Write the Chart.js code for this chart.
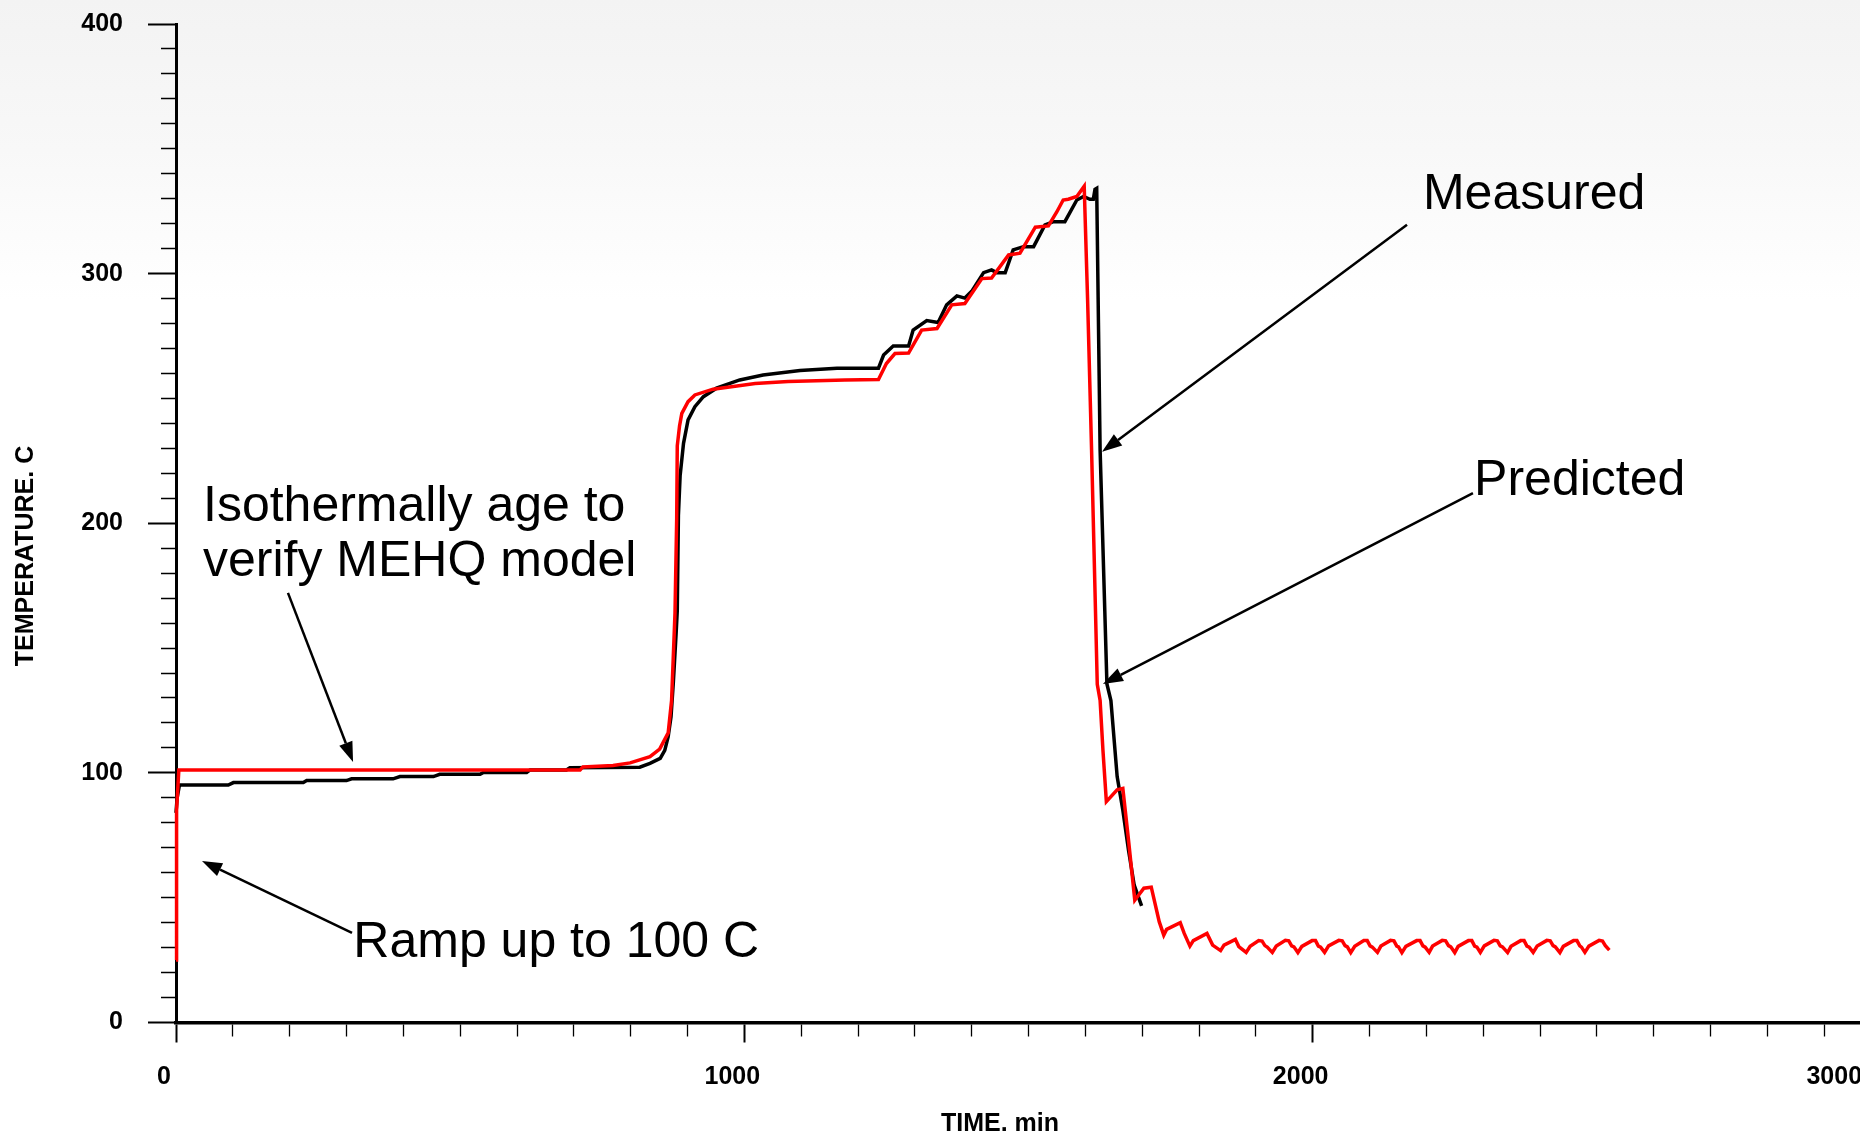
<!DOCTYPE html>
<html>
<head>
<meta charset="utf-8">
<script src="https://cdn.jsdelivr.net/npm/chart.js@4/dist/chart.umd.min.js"></script>
<style>
  html, body { margin: 0; padding: 0; overflow: hidden; background: #fff; }
  #wrap { position: relative; width: 1900px; height: 1138px;
          background: linear-gradient(#f3f3f3 0, #f8f8f8 150px, #fff 300px); }
</style>
</head>
<body>
<div id="wrap"><canvas id="tempchart"></canvas></div>
<script>
// measured temperature (black)
const measuredTime = [0, 2, 6, 92, 101, 224, 230, 300, 309, 382, 394, 453, 464, 535, 541, 617, 623, 687, 693, 816,
  834, 852, 860, 866, 871, 875, 880, 882, 884, 887, 893, 901, 913, 928, 951, 992, 1033, 1098, 1163, 1236,
  1245, 1262, 1289, 1297, 1321, 1341, 1356, 1374, 1388, 1400, 1421, 1435, 1444, 1459, 1473, 1491, 1509, 1529, 1544, 1564,
  1585, 1597, 1608, 1614, 1617, 1620, 1626, 1638, 1645, 1656, 1666, 1676, 1686, 1699];
const measuredTemp = [84, 90, 95.1, 95.1, 96.1, 96.1, 96.9, 96.9, 97.6, 97.6, 98.5, 98.5, 99.4, 99.4, 100.2, 100.2, 101.2, 101.2, 102.1, 102.3,
  103.8, 105.8, 109, 114.5, 122.5, 136, 156, 165, 203, 219, 232, 241.4, 246.7, 250.7, 254.1, 257.4, 259.4, 261.2, 262.1, 262.1,
  267.4, 271, 271, 277.4, 281.2, 280.4, 287.5, 291.1, 290.2, 292.9, 300.4, 301.5, 300.4, 300.4, 309.5, 310.8, 310.8, 319.5, 320.8, 320.8,
  329.5, 330.9, 329.8, 329.8, 333.8, 334.2, 229.4, 135.6, 129, 98.5, 85, 69, 55, 46.7];

// predicted temperature (red)
const predictedTime = [0, 1, 5, 711, 716, 769, 799, 834, 851, 866, 872, 878, 881, 882, 886, 890, 901, 913, 945, 987,
  1019, 1077, 1177, 1236, 1250, 1265, 1289, 1312, 1339, 1365, 1388, 1418, 1435, 1465, 1485, 1512, 1535, 1550, 1561, 1570,
  1585, 1598, 1604, 1611, 1621, 1626, 1631, 1637, 1656, 1666, 1676, 1687, 1703, 1716, 1730, 1738, 1743, 1767, 1774, 1784,
  1790, 1814, 1824, 1838, 1844, 1864, 1870, 1883,
  1890, 1905, 1911, 1916, 1920, 1929,
  1936, 1952, 1958, 1963, 1967, 1974,
  1981, 1999, 2005, 2010, 2014, 2021,
  2028, 2046, 2052, 2057, 2061, 2067,
  2074, 2090, 2096, 2101, 2105, 2114,
  2120, 2137, 2143, 2148, 2151, 2157,
  2164, 2183, 2189, 2194, 2198, 2205,
  2211, 2228, 2234, 2239, 2243, 2250,
  2256, 2274, 2280, 2285, 2289, 2295,
  2302, 2319, 2325, 2330, 2334, 2343,
  2349, 2366, 2372, 2377, 2381, 2388,
  2395, 2412, 2418, 2423, 2427, 2435,
  2441, 2459, 2465, 2470, 2473, 2479,
  2486, 2504, 2510, 2515, 2522];
const predictedTemp = [25, 85, 101.2, 101.2, 102.4, 103, 104, 106.5, 109.5, 116, 129, 164, 202, 231, 239, 244, 248.7, 251.4, 253.7, 255,
  256, 256.8, 257.4, 257.6, 264, 268, 268.2, 277.4, 278, 287.5, 288, 298, 298.2, 307.5, 308.2, 318.6, 319.1, 324.8, 329.5, 329.8,
  330.9, 335, 289.5, 229.3, 135.5, 129, 109, 88.5, 93.2, 93.8, 73, 49, 53.8, 54.2, 40.4, 35, 37.3, 40, 35.7, 30.6,
  32.8, 35.7, 31, 28.8, 31, 33.3, 30.4, 28.1,
  30.5, 32.8, 32.6, 30.8, 30.2, 28.1,
  30.6, 32.9, 32.7, 30.7, 30.3, 28.0,
  30.5, 32.8, 32.8, 30.6, 30.2, 28.1,
  30.7, 32.9, 32.7, 30.8, 30.3, 28.0,
  30.5, 32.8, 32.8, 30.7, 30.2, 28.1,
  30.6, 32.9, 32.7, 30.6, 30.3, 28.0,
  30.5, 32.8, 32.8, 30.7, 30.2, 28.1,
  30.6, 32.9, 32.7, 30.8, 30.3, 28.0,
  30.5, 32.8, 32.8, 30.6, 30.2, 28.1,
  30.7, 32.9, 32.7, 30.7, 30.3, 28.0,
  30.5, 32.8, 32.8, 30.6, 30.2, 28.1,
  30.6, 32.9, 32.7, 30.8, 30.3, 28.0,
  30.5, 32.8, 32.8, 30.7, 30.2, 28.1,
  30.6, 32.9, 32.6, 30.8, 29.0];

const xLabels = [0, 1000, 2000, 3000];
const yLabels = [0, 100, 200, 300, 400];

// callouts, in data units (min, C)
const notes = [
  { text: 'Measured', x: 2194, y: 325.9 },
  { text: 'Predicted', x: 2284, y: 211.3 },
  { text: 'Isothermally age to', x: 47.5, y: 200.9 },
  { text: 'verify MEHQ model', x: 47.5, y: 178.9 },
  { text: 'Ramp up to 100 C', x: 312, y: 26.4 }
];
const arrows = [
  { from: [2166, 319.6], to: [1629.4, 228.6] },
  { from: [2282, 212.1], to: [1631, 135.6] },
  { from: [197, 172.1], to: [311.5, 104.4] },
  { from: [309.7, 35.9], to: [45.8, 64.7] }
];

const FONT = '"Liberation Sans", Arial, sans-serif';
Chart.defaults.font.family = FONT;

function points(xs, ys) {
  return xs.map((t, i) => ({ x: t, y: ys[i] }));
}

const callouts = {
  id: 'callouts',
  afterDatasetsDraw(chart) {
    const { ctx, scales: { x, y } } = chart;
    ctx.save();
    ctx.fillStyle = '#000';
    ctx.strokeStyle = '#000';
    ctx.font = '50px ' + FONT;
    ctx.textBaseline = 'alphabetic';
    notes.forEach(n => ctx.fillText(n.text, x.getPixelForValue(n.x), y.getPixelForValue(n.y)));

    arrows.forEach(a => {
      const x1 = x.getPixelForValue(a.from[0]), y1 = y.getPixelForValue(a.from[1]);
      const x2 = x.getPixelForValue(a.to[0]), y2 = y.getPixelForValue(a.to[1]);
      const ang = Math.atan2(y2 - y1, x2 - x1);
      const head = 20, half = 7;
      const bx = x2 - head * Math.cos(ang), by = y2 - head * Math.sin(ang);
      ctx.lineWidth = 2.5;
      ctx.beginPath();
      ctx.moveTo(x1, y1);
      ctx.lineTo(bx, by);
      ctx.stroke();
      ctx.beginPath();
      ctx.moveTo(x2, y2);
      ctx.lineTo(bx + half * Math.sin(ang), by - half * Math.cos(ang));
      ctx.lineTo(bx - half * Math.sin(ang), by + half * Math.cos(ang));
      ctx.closePath();
      ctx.fill();
    });

    // axis titles
    ctx.font = 'bold 25px ' + FONT;
    ctx.textAlign = 'center';
    ctx.textBaseline = 'middle';
    ctx.fillText('TIME. min', 1000, 1124);
    ctx.translate(26, 556);
    ctx.rotate(-Math.PI / 2);
    ctx.fillText('TEMPERATURE. C', 0, 0);
    ctx.restore();
  }
};

const tickFont = { family: FONT, size: 25, weight: 'bold' };

// the last x label sits left of its tick in the original
function xLabel(v) {
  if (!xLabels.includes(v)) return '';
  return v === 3000 ? '3000          ' : String(v);
}

new Chart(document.getElementById('tempchart'), {
  type: 'line',
  data: {
    datasets: [
      {
        label: 'Predicted',
        data: points(predictedTime, predictedTemp),
        borderColor: '#ff0000',
        borderWidth: 3.5,
        pointRadius: 0,
        tension: 0,
        fill: false,
        clip: false
      },
      {
        label: 'Measured',
        data: points(measuredTime, measuredTemp),
        borderColor: '#000000',
        borderWidth: 3.5,
        pointRadius: 0,
        tension: 0,
        fill: false,
        clip: false
      }
    ]
  },
  options: {
    responsive: true,
    maintainAspectRatio: false,
    animation: false,
    layout: { padding: { top: 24, right: 19, bottom: 0, left: 0 } },
    plugins: { legend: { display: false }, tooltip: { enabled: false } },
    scales: {
      x: {
        type: 'linear',
        min: 0,
        max: 3000,
        afterFit: s => { s.height = 115.5; s.paddingLeft = 0; s.paddingRight = 0; },
        border: { display: true, color: '#000', width: 3.5 },
        grid: {
          drawOnChartArea: false,
          tickLength: 20,
          tickColor: '#000',
          tickWidth: c => xLabels.includes(c.tick.value) ? 2 : 1.3,
          tickBorderDash: c => xLabels.includes(c.tick.value) ? [] : [12, 100]
        },
        ticks: {
          stepSize: 100,
          autoSkip: false,
          maxRotation: 0,
          padding: 20,
          labelOffset: -12,
          color: '#000',
          font: tickFont,
          callback: xLabel
        }
      },
      y: {
        min: 0,
        max: 400,
        afterFit: s => { s.width = 176; s.paddingTop = 0; s.paddingBottom = 0; },
        border: { display: true, color: '#000', width: 3 },
        grid: {
          drawOnChartArea: false,
          tickLength: 28,
          tickColor: '#000',
          tickWidth: c => yLabels.includes(c.tick.value) ? 2 : 1.3,
          tickBorderDash: c => yLabels.includes(c.tick.value) ? [] : [0, 13, 20, 100]
        },
        ticks: {
          stepSize: 10,
          autoSkip: false,
          padding: 25,
          color: '#000',
          font: tickFont,
          callback: v => yLabels.includes(v) ? String(v) : ''
        }
      }
    }
  },
  plugins: [callouts]
});
</script>
</body>
</html>
